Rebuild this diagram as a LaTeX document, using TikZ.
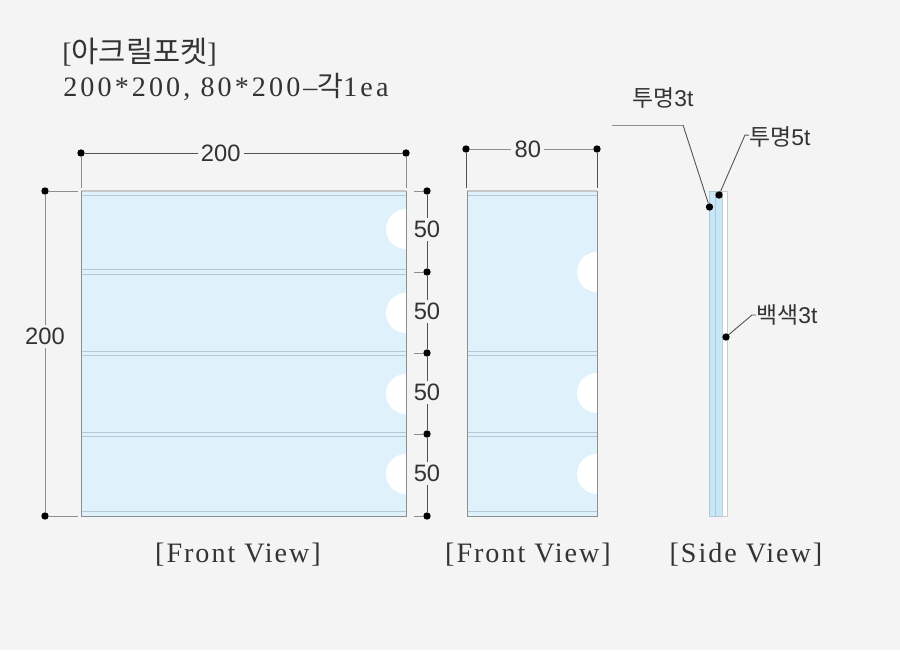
\documentclass[tikz,border=0pt]{standalone}
\usepackage{fontspec}
\setmainfont{Liberation Sans}
\newfontfamily\serifwide[LetterSpace=11]{Liberation Serif}
\newfontfamily\serifview[LetterSpace=7]{Liberation Serif}
\newfontfamily\kr{Noto Sans CJK KR}
\definecolor{pagebg}{HTML}{F4F4F4}
\definecolor{panelblue}{HTML}{DFF2FC}
\definecolor{sideblue}{HTML}{C6E7F7}
\definecolor{bandline}{HTML}{B4C8D4}
\definecolor{edgegrey}{HTML}{8C8F92}
\definecolor{inktext}{HTML}{333333}
\tikzset{
  dimdot/.style={circle,fill=black,inner sep=0pt,minimum size=4.2pt},
  dimline/.style={draw=inktext!85,line width=0.5pt},
  extline/.style={draw=edgegrey,line width=0.55pt},
  band/.style={draw=bandline,line width=0.5pt},
  topline/.style={draw=black!22,line width=0.8pt},
  dimtext/.style={fill=pagebg,text=inktext,font=\fontsize{13.5}{13.5}\selectfont,inner sep=1.8pt},
  leadtext/.style={text=inktext,font=\fontsize{13}{13}\selectfont,inner sep=0pt,anchor=west},
  headtext/.style={anchor=west,inner sep=0pt,text=inktext,font=\serifwide\fontsize{16}{16}\selectfont},
  viewtext/.style={text=inktext,font=\serifview\fontsize{16}{16}\selectfont,inner sep=0pt}
}
\begin{document}
\begin{tikzpicture}[x=0.02cm,y=0.02cm]
    \fill [pagebg] (0,0) rectangle (900,-650);
    \useasboundingbox (0,0) rectangle (900,-650);
    % heading
    \node [headtext] (title) at (62,-52) {[{\kr\fontsize{16.8}{16.8}\selectfont 아크릴포켓}]};
    \node [headtext] (sizes) at (63,-87) {200*200, 80*200–{\kr\fontsize{16}{16}\selectfont 각}1ea};
    % left panel
    \fill [panelblue] (81,-191) rectangle (406,-516);
    \fill [white] (406,-209) arc (90:270:20) -- cycle;
    \fill [white] (406,-293) arc (90:270:20) -- cycle;
    \fill [white] (406,-374) arc (90:270:20) -- cycle;
    \fill [white] (406,-454) arc (90:270:20) -- cycle;
    \draw [topline] (81,-191) -- (406,-191);
    \draw [band] (81,-195.5) -- (406,-195.5);
    \draw [band] (81,-269.5) -- (406,-269.5);
    \draw [band] (81,-274.5) -- (406,-274.5);
    \draw [band] (81,-351) -- (406,-351);
    \draw [band] (81,-355.5) -- (406,-355.5);
    \draw [band] (81,-432) -- (406,-432);
    \draw [band] (81,-436.5) -- (406,-436.5);
    \draw [band] (81,-511) -- (406,-511);
    \draw [extline] (81,-191) -- (81,-516) -- (406,-516) -- (406,-191);
    % right panel
    \fill [panelblue] (467,-191) rectangle (597,-516);
    \fill [white] (597,-252) arc (90:270:20) -- cycle;
    \fill [white] (597,-373) arc (90:270:20) -- cycle;
    \fill [white] (597,-454) arc (90:270:20) -- cycle;
    \draw [topline] (467,-191) -- (597,-191);
    \draw [band] (467,-195.5) -- (597,-195.5);
    \draw [band] (467,-351) -- (597,-351);
    \draw [band] (467,-355.5) -- (597,-355.5);
    \draw [band] (467,-432) -- (597,-432);
    \draw [band] (467,-436.5) -- (597,-436.5);
    \draw [band] (467,-511) -- (597,-511);
    \draw [extline] (467,-191) -- (467,-516) -- (597,-516) -- (597,-191);
    % side view
    \fill [sideblue] (709.5,-191) rectangle (722.5,-516);
    \fill [white] (722.5,-191) rectangle (727.5,-516);
    \draw [band] (709.5,-516) rectangle (722.5,-191);
    \draw [band] (715,-191) -- (715,-516);
    \draw [draw=black!20,line width=0.5pt] (722.5,-191) rectangle (727.5,-516);
    % width 200
    \node [dimdot] (wa) at (81,-153) {};
    \node [dimdot] (wb) at (406,-153) {};
    \coordinate (wafoot) at (81,-188);
    \coordinate (wbfoot) at (406,-188);
    \draw [dimline] (wa) -- node [dimtext,pos=0.428] (wlabel) {200} (wb);
    \draw [extline] (wa) -- (wafoot);
    \draw [extline] (wb) -- (wbfoot);
    % height 200
    \node [dimdot] (ha) at (45,-191) {};
    \node [dimdot] (hb) at (45,-516) {};
    \coordinate (hafoot) at (78,-191);
    \coordinate (hbfoot) at (78,-516);
    \draw [extline] (ha) -- node [dimtext,pos=0.446] (hlabel) {200} (hb);
    \draw [extline] (ha) -- (hafoot);
    \draw [extline] (hb) -- (hbfoot);
    % width 80
    \node [dimdot] (na) at (466,-149) {};
    \node [dimdot] (nb) at (597,-149) {};
    \coordinate (nafoot) at (466,-188);
    \coordinate (nbfoot) at (597,-188);
    \draw [extline] (na) -- node [dimtext,pos=0.47] (nlabel) {80} (nb);
    \draw [dimline] (na) -- (nafoot);
    \draw [dimline] (nb) -- (nbfoot);
    % pitch 50
    \node [dimdot] (pa) at (427,-191) {};
    \node [dimdot] (pb) at (427,-272) {};
    \node [dimdot] (pc) at (427,-353) {};
    \node [dimdot] (pd) at (427,-434) {};
    \node [dimdot] (pe) at (427,-516) {};
    \draw [dimline] (pa) -- node [dimtext,pos=0.475] (pab) {50} (pb);
    \draw [dimline] (pb) -- node [dimtext,pos=0.485] (pbc) {50} (pc);
    \draw [dimline] (pc) -- node [dimtext,pos=0.485] (pcd) {50} (pd);
    \draw [dimline] (pd) -- node [dimtext,pos=0.475] (pde) {50} (pe);
    \coordinate (ta) at (414,-191);
    \coordinate (tb) at (414,-272);
    \coordinate (tc) at (414,-353);
    \coordinate (td) at (414,-434);
    \coordinate (te) at (414,-516);
    \draw [extline] (ta) -- (pa);
    \draw [extline] (tb) -- (pb);
    \draw [extline] (tc) -- (pc);
    \draw [extline] (td) -- (pd);
    \draw [extline] (te) -- (pe);
    % leaders
    \node [dimdot] (clear3) at (709.5,-207) {};
    \node [dimdot] (clear5) at (719,-195) {};
    \node [dimdot] (white3) at (726,-337) {};
    \node [leadtext] (clear3label) at (632,-98) {{\kr 투명}3t};
    \node [leadtext] (clear5label) at (749,-137) {{\kr 투명}5t};
    \node [leadtext] (white3label) at (756,-315) {{\kr 백색}3t};
    \coordinate (clear3tail) at (612,-125);
    \coordinate (clear3knee) at (683,-125);
    \coordinate (clear5knee) at (745,-135);
    \coordinate (white3knee) at (752,-315);
    \draw [extline] (clear3tail) -- (clear3knee);
    \draw [dimline] (clear3knee) -- (clear3);
    \draw [dimline] (clear5) -- (clear5knee) -- (clear5label);
    \draw [dimline] (white3) -- (white3knee) -- (white3label);
    % view captions
    \node [viewtext] (viewa) at (238,-555) {[Front View]};
    \node [viewtext] (viewb) at (528,-555) {[Front View]};
    \node [viewtext] (viewc) at (746,-555) {[Side View]};
\end{tikzpicture}
\end{document}
